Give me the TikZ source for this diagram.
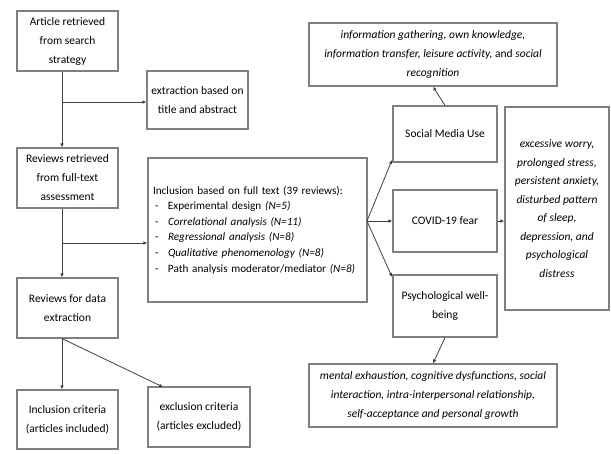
\documentclass[tikz,border=0pt]{standalone}
\usepackage{fontspec}
\setmainfont{Carlito}
\usetikzlibrary{arrows.meta}
\tikzset{
  box/.style={draw=black!50, line width=1.1pt, rectangle, inner sep=0pt, align=center,
    font=\fontsize{11.5}{19}\selectfont},
  arr/.style={draw=black!75, line width=0.8pt, -{Latex[length=4pt,width=3.5pt]}},
}
\begin{document}
\begin{tikzpicture}[x=1pt,y=-1pt]
\useasboundingbox (0,0) rectangle (611,453);
% left column
\node[box, minimum width=101pt, minimum height=60pt] (art) at (67.5,41) {Article retrieved\\from search\\strategy};
\node[box, minimum width=101pt, minimum height=58pt] (ext) at (197.5,100) {extraction based on\\title and abstract};
\node[box, minimum width=101pt, minimum height=60pt] (rev) at (67.5,178) {Reviews retrieved\\from full-text\\assessment};
\node[box, minimum width=219pt, minimum height=144pt, align=left, text width=209pt, inner xsep=5pt,
  font=\fontsize{11.2}{15.6}\selectfont] (inc) at (257.5,230)
  {Inclusion based on full text (39 reviews):\\
   \makebox[15pt][l]{\hspace*{2pt}-}Experimental design \textit{(N=5)}\\
   \makebox[15pt][l]{\hspace*{2pt}-}\textit{Correlational analysis (N=11)}\\
   \makebox[15pt][l]{\hspace*{2pt}-}\textit{Regressional analysis (N=8)}\\
   \makebox[15pt][l]{\hspace*{2pt}-}\textit{Qualitative phenomenology (N=8)}\\
   \makebox[15pt][l]{\hspace*{2pt}-}Path analysis moderator/mediator \textit{(N=8)}};
\node[box, minimum width=101pt, minimum height=60pt] (rde) at (67.5,308) {Reviews for data\\extraction};
\node[box, minimum width=101pt, minimum height=59pt] (ic) at (67.5,419.5) {Inclusion criteria\\(articles included)};
\node[box, minimum width=102pt, minimum height=60pt] (ec) at (199,417) {exclusion criteria\\(articles excluded)};
% right part
\node[box, minimum width=248pt, minimum height=63pt] (info) at (433,54.5)
  {\textit{information gathering, own knowledge,}\\\textit{information transfer, leisure activity,} and \textit{social}\\\textit{recognition}};
\node[box, minimum width=104pt, minimum height=56pt] (smu) at (445,134) {Social Media Use};
\node[box, minimum width=104pt, minimum height=62pt] (cov) at (445,221) {COVID-19 fear};
\node[box, minimum width=104pt, minimum height=62pt] (pwb) at (445,306) {Psychological well-\\being};
\node[box, minimum width=104pt, minimum height=203pt, font=\fontsize{11.5}{18.5}\selectfont\itshape] (exc) at (557,208.5)
  {excessive worry,\\prolonged stress,\\persistent anxiety,\\disturbed pattern\\of sleep,\\depression, and\\psychological\\distress};
\node[box, minimum width=248pt, minimum height=63pt, font=\fontsize{11.5}{19}\selectfont\itshape] (men) at (433,395.5)
  {mental exhaustion, cognitive dysfunctions, social\\interaction, intra-interpersonal relationship,\\self-acceptance and personal growth};
% connectors
\coordinate (tr) at (62,0);
\coordinate (b1) at (62,102);
\coordinate (b2) at (62,243);
\draw[arr] (art.south -| tr) -- (rev.north -| tr);
\draw[arr] (b1) -- (ext.west |- b1);
\draw[arr] (rev.south -| tr) -- (rde.north -| tr);
\draw[arr] (b2) -- (inc.west |- b2);
\draw[arr] (rde.south -| tr) -- (ic.north -| tr);
\coordinate (ecn) at (163,387);
\draw[arr] (rde.south -| tr) -- (ecn);
\coordinate (fan) at (367,221);
\coordinate (smin) at (392,160);
\coordinate (pwin) at (392,277);
\draw[arr] (fan) -- (smin);
\draw[arr] (fan) -- (cov.west |- fan);
\draw[arr] (fan) -- (pwin);
\draw[arr] (smu.north) -- (info.south);
\draw[arr] (cov.east) -- (exc.west |- cov.east);
\draw[arr] (pwb.south) -- (men.north);
\end{tikzpicture}
\end{document}
